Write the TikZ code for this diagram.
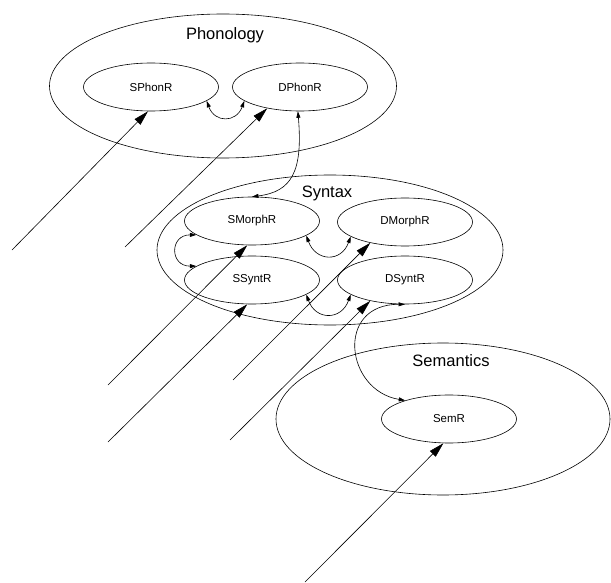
\documentclass[tikz,border=0pt]{standalone}
\usepackage{fontspec}
\setmainfont{Liberation Sans}
\usetikzlibrary{shapes.geometric,arrows.meta}
\begin{document}
\begin{tikzpicture}[x=1pt,y=1pt,line width=0.6pt,
  bigell/.style={draw, ellipse, inner sep=0pt},
  rep/.style={draw, ellipse, inner sep=0pt, minimum width=135pt, minimum height=48pt,
    font=\fontsize{11.5}{13}\selectfont},
  title/.style={font=\fontsize{16.5}{19}\selectfont, inner sep=0pt, anchor=base},
  feed/.style={-{Triangle[length=15pt,width=8pt]}},
  link/.style={{Triangle[length=6.5pt,width=4pt]}-{Triangle[length=6.5pt,width=4pt]}},
]
\useasboundingbox (0,0) rectangle (611,-583);
% domains
\node[bigell, minimum width=347pt, minimum height=144pt] (phon) at (223,-86) {};
\node[bigell, minimum width=346pt, minimum height=150pt] (synt) at (330,-250) {};
\node[bigell, minimum width=334pt, minimum height=152pt] (sem) at (443,-419) {};
\node[title] (phonlbl) at (225,-40) {Phonology};
\node[title] (syntlbl) at (327,-198) {Syntax};
\node[title] (semlbl) at (451,-366) {Semantics};
% representations
\node[rep] (sphonr) at (151,-87) {SPhonR};
\node[rep] (dphonr) at (300,-87) {DPhonR};
\node[rep] (smorphr) at (252,-221) {SMorphR};
\node[rep] (dmorphr) at (405,-222) {DMorphR};
\node[rep] (ssyntr) at (252,-280) {SSyntR};
\node[rep] (dsyntr) at (405,-280) {DSyntR};
\node[rep] (semr) at (449,-419) {SemR};
% free ends of the input lines
\coordinate (f1) at (12,-250);
\coordinate (f2) at (125,-247);
\coordinate (f3) at (108,-385);
\coordinate (f4) at (108,-442);
\coordinate (f5) at (233,-380);
\coordinate (f6) at (230,-440);
\coordinate (f7) at (305,-582);
\draw[feed] (f1) -- (sphonr.263);
\draw[feed] (f2) -- (dphonr.213);
\draw[feed] (f3) -- (smorphr.259);
\draw[feed] (f4) -- (ssyntr.259);
\draw[feed] (f5) -- (dmorphr.211);
\draw[feed] (f6) -- (dsyntr.211);
\draw[feed] (f7) -- (semr.257);
% correspondences
\draw[link] (sphonr.-14) to[out=-70,in=-110,looseness=1.6] (dphonr.194);
\draw[link] (smorphr.-15) to[out=-70,in=-110,looseness=1.6] (dmorphr.195);
\draw[link] (ssyntr.-15) to[out=-70,in=-110,looseness=1.6] (dsyntr.195);
\draw[link] (smorphr.194) to[out=180,in=180,looseness=2.2] (ssyntr.166);
\draw[link] (dphonr.265) .. controls +(5,-60) and +(40,5) .. (smorphr.north);
\draw[link] (dsyntr.south) .. controls +(-70,0) and +(-60,10) .. (semr.157);
\end{tikzpicture}
\end{document}
